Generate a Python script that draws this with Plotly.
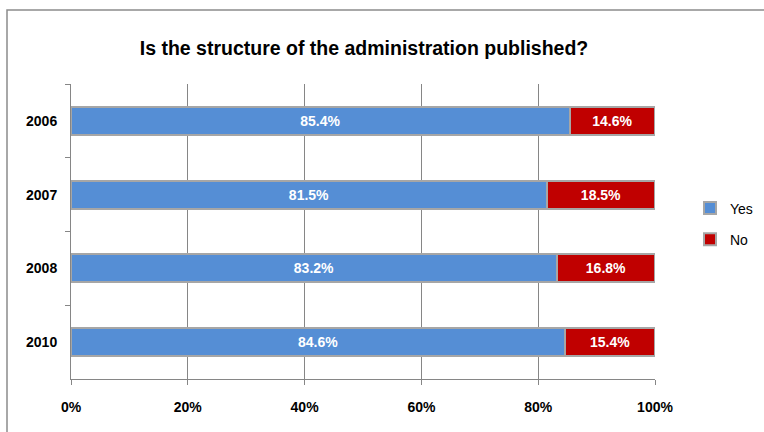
import plotly.graph_objects as go

# Survey results per year (percent of respondents)
years = ["2006", "2007", "2008", "2010"]
yes_pct = [85.4, 81.5, 83.2, 84.6]
no_pct = [14.6, 18.5, 16.8, 15.4]
x_ticks = [0, 20, 40, 60, 80, 100]
x_tick_labels = ["0%", "20%", "40%", "60%", "80%", "100%"]

FONT = "Liberation Sans, Arial, sans-serif"
BLUE = "#558ED5"
RED = "#C00000"
EDGE = "#A6A6A6"
GRID = "#868686"

fig = go.Figure()
for name, vals, color in (("Yes", yes_pct, BLUE), ("No", no_pct, RED)):
    fig.add_trace(go.Bar(
        name=name, y=years, x=vals, orientation="h", legendgroup=name,
        marker=dict(color=color, line=dict(color=EDGE, width=2)),
        text=[f"{v:.1f}%" for v in vals], textposition="inside",
        insidetextanchor="middle",
        textfont=dict(color="white", size=14, family=FONT, weight="bold"),
        hoverinfo="skip",
    ))

L, R, T, B = 71, 109, 84, 53
W, H = 764, 432
pw, ph = W - L - R, H - T - B

fig.update_layout(
    width=W, height=H,
    margin=dict(l=L, r=R, t=T, b=B, autoexpand=False),
    barmode="stack", bargap=0.62,
    paper_bgcolor="white", plot_bgcolor="white",
    font=dict(family=FONT, size=14, color="black"),
    title=dict(
        text="<b>Is the structure of the administration published?</b>",
        x=364 / W, xanchor="center", y=1 - 48 / H, yanchor="middle",
        font=dict(size=19.5, family=FONT, color="black"),
    ),
    legend=dict(
        x=(690 - L) / pw, y=(H - B - 224) / ph, xanchor="left", yanchor="middle",
        traceorder="grouped", tracegroupgap=10,
        font=dict(size=14, family=FONT),
        bgcolor="rgba(0,0,0,0)", itemwidth=30,
    ),
    xaxis=dict(
        range=[0, 100], tickvals=x_ticks, ticktext=x_tick_labels,
        showgrid=True, gridcolor=GRID, gridwidth=1,
        showline=True, linecolor=GRID, linewidth=1,
        ticks="outside", ticklen=5, tickcolor=GRID, ticklabelstandoff=10,
        tickfont=dict(size=14, family=FONT, weight="bold"),
        zeroline=False, fixedrange=True, automargin=False,
    ),
    yaxis=dict(
        categoryorder="array", categoryarray=years, autorange="reversed",
        showline=True, linecolor=GRID, linewidth=1,
        ticks="outside", ticklen=5, tickcolor=GRID, tickson="boundaries",
        ticklabelstandoff=10,
        tickfont=dict(size=14, family=FONT, weight="bold"),
        showgrid=False, fixedrange=True, automargin=False,
    ),
    shapes=[dict(
        type="rect", xref="paper", yref="paper",
        x0=(7 - L) / pw, x1=(W + 20 - L) / pw,
        y0=-(B + 20) / ph, y1=(H - 10 - B) / ph,
        line=dict(color="#8C8C8C", width=1.5), fillcolor="rgba(0,0,0,0)",
        layer="below",
    )],
)

fig.write_html("out.html")
